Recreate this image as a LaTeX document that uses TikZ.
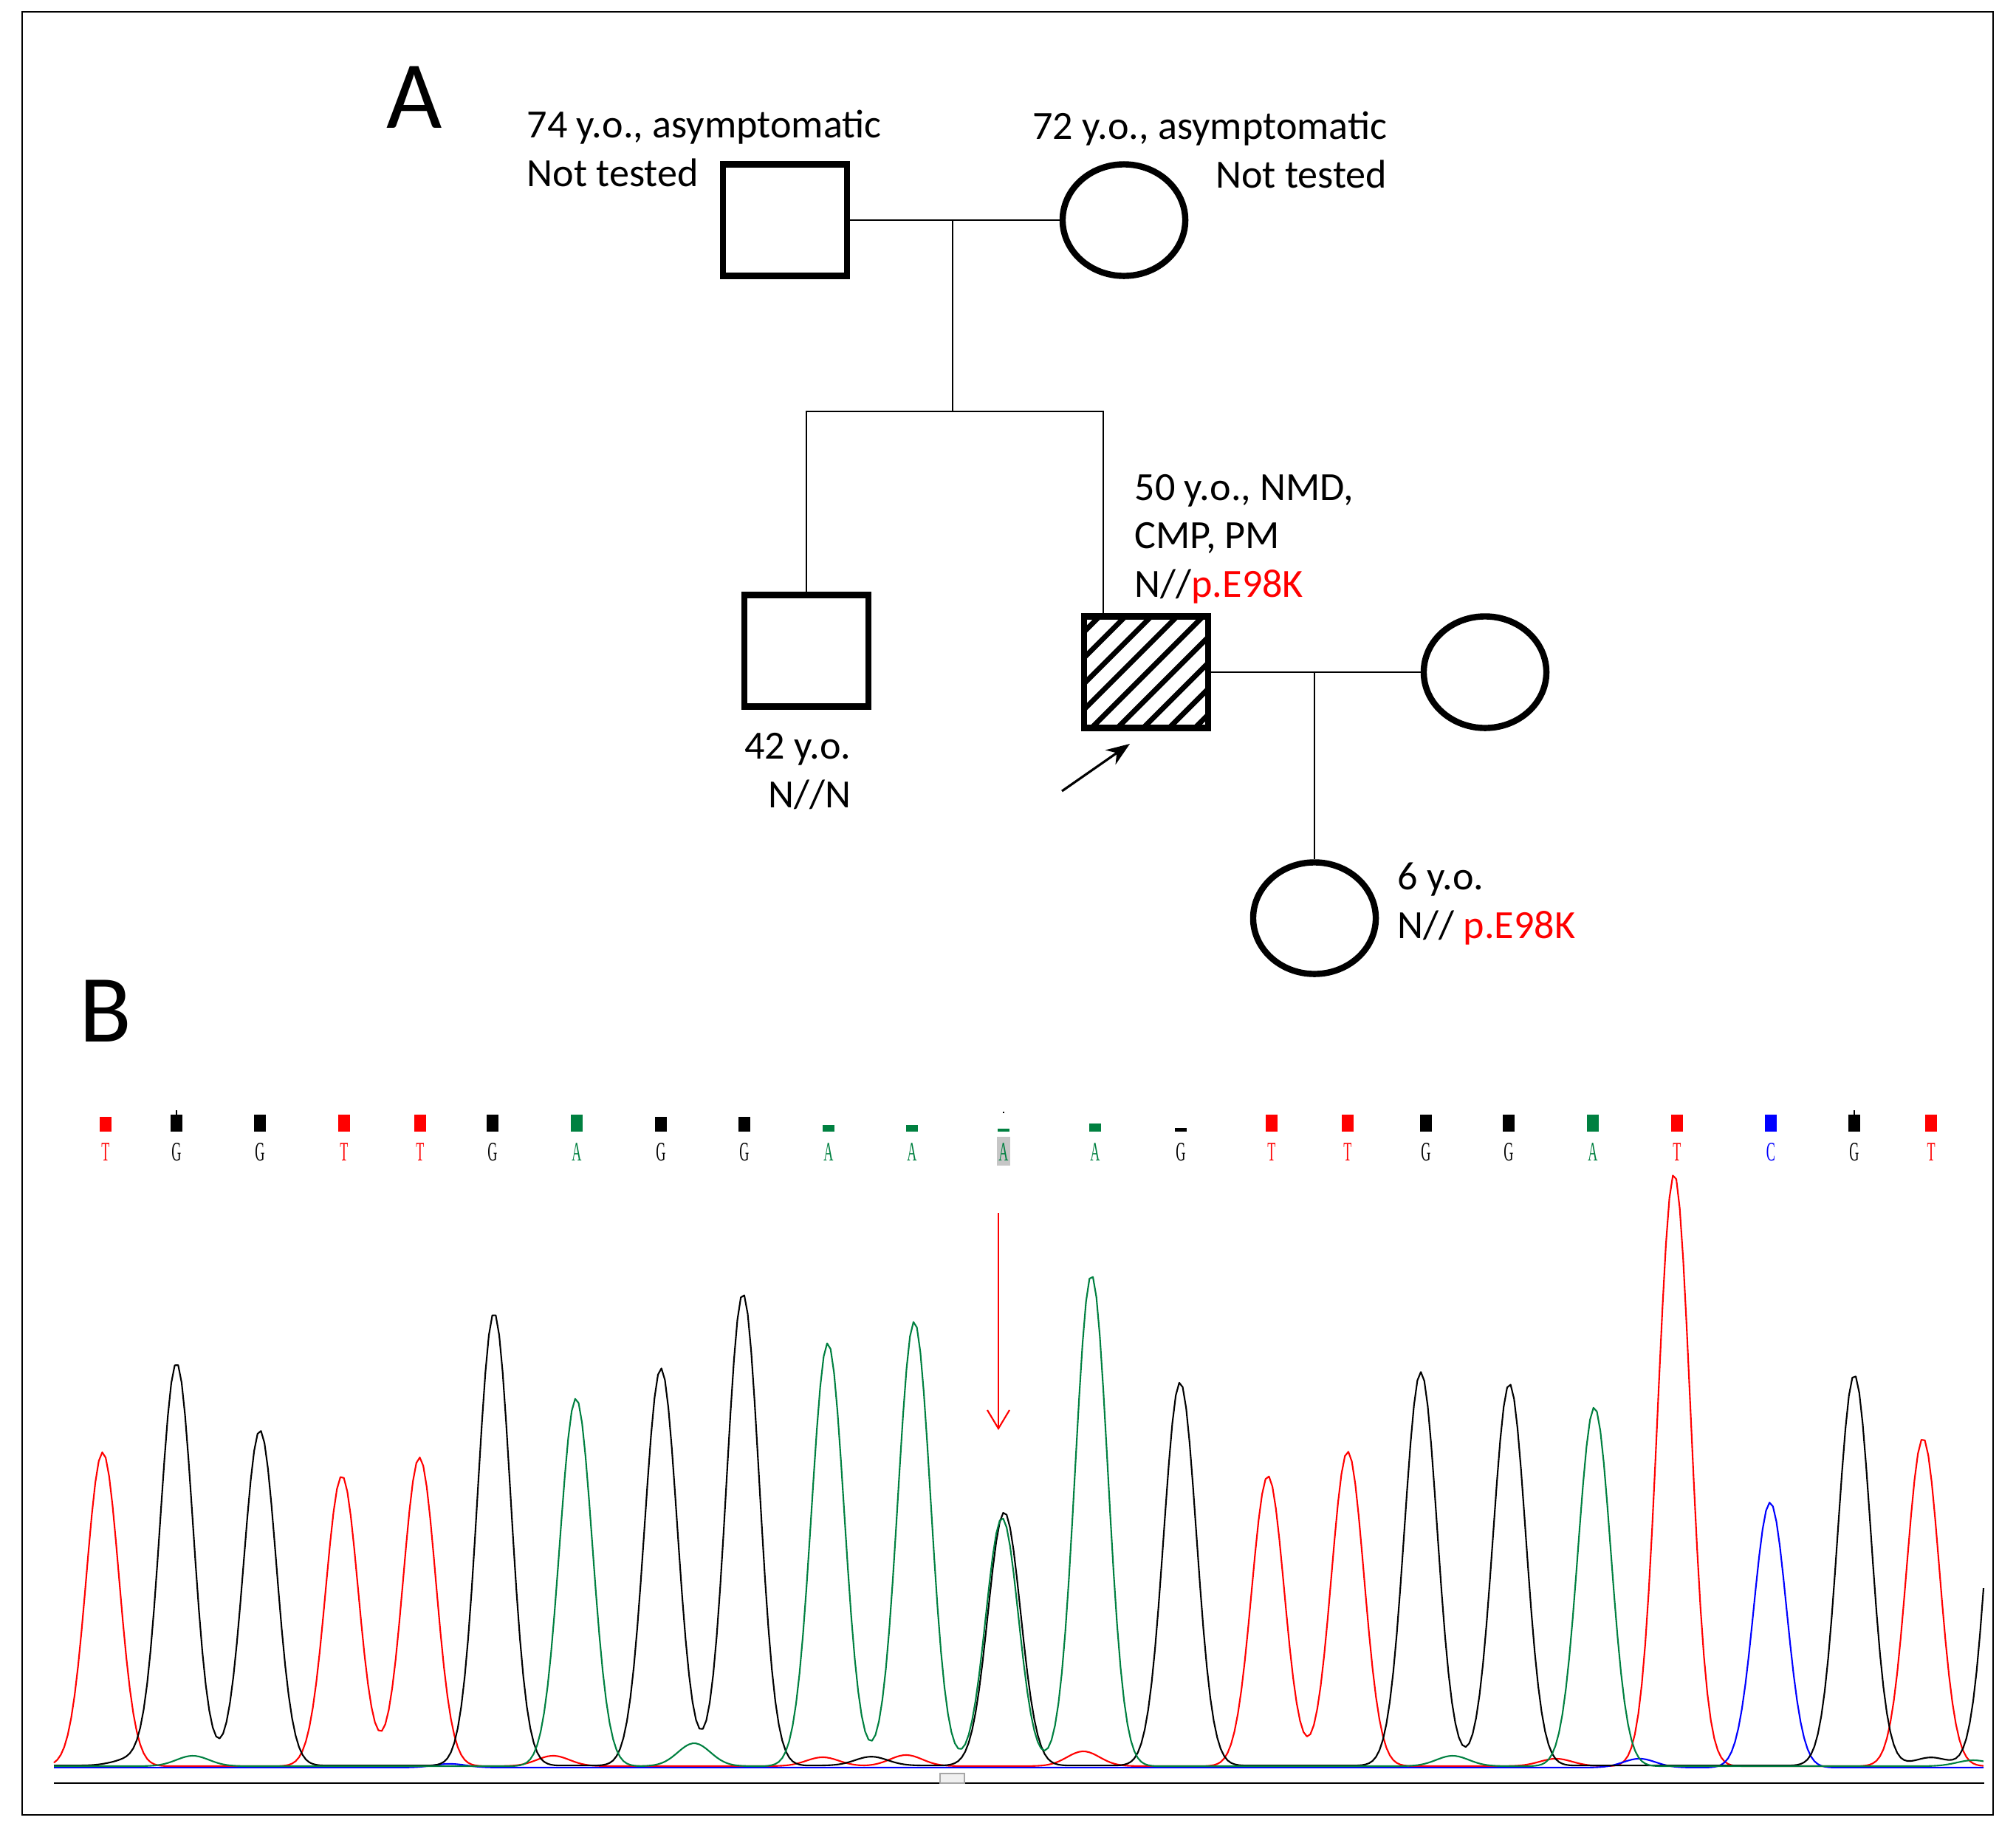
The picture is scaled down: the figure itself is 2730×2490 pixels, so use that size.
\documentclass[tikz,border=0pt]{standalone}
\usepackage{fontspec}
\setmainfont{Carlito}
\newfontfamily\seqfont{Liberation Serif}
\usepackage{graphicx}
\usetikzlibrary{arrows.meta,calc,positioning,shapes.geometric}

\definecolor{mutred}{RGB}{255,0,0}
\definecolor{baseA}{RGB}{0,128,64}
\definecolor{baseC}{RGB}{0,0,255}
\definecolor{baseG}{RGB}{0,0,0}
\definecolor{baseT}{RGB}{255,0,0}

\tikzset{
  male/.style={draw, line width=2.4pt, minimum width=1.68cm, minimum height=1.51cm, inner sep=0pt},
  female/.style={ellipse, draw, line width=2.4pt, minimum width=1.66cm, minimum height=1.51cm, inner sep=0pt},
  link/.style={line width=0.7pt},
  info/.style={inner sep=0pt, font=\fontsize{15.4}{18.5}\selectfont},
  panel/.style={inner sep=0pt, font=\fontsize{37}{40}\selectfont},
  seq/.style={inner sep=0pt, font=\seqfont\fontsize{10.3}{12}\selectfont},
  trace/.style={line width=0.6pt, line join=round},
  declare function={bump(\zz)=exp(-0.5*\zz*\zz);
    pk(\px,\pc,\ph)=\ph*bump(min(abs(\px-\pc)/22,4));}
}

\begin{document}
\begin{tikzpicture}[x=0.01cm, y=-0.01cm]
\useasboundingbox (0,0) rectangle (2730,2490);
\draw[line width=0.5pt] (30,16) rectangle (2699,2457);

% A: pedigree
\node[panel, anchor=base west] (panelA) at (523,173) {A};
\node[male] (father) at (1063,298) {};
\node[female] (mother) at (1522,298) {};
\node[male] (son) at (1092,881) {};
\node[male, path picture={
  \foreach \k in {0,...,9}
    \draw[line width=2pt] ([xshift=-1.30cm+\k*0.35cm]path picture bounding box.south west) -- ++(170,-170);
  }] (proband) at (1552,910) {};
\node[female] (spouse) at (2011,910) {};
\node[female] (daughter) at (1780,1243) {};

\coordinate (m1) at (1290,298);
\coordinate (sibL) at (1092,557);
\coordinate (sibR) at (1494,557);
\coordinate (m2) at (1780,910);
\draw[link] (father) -- (mother);
\draw[link] (m1) -- (m1 |- sibL);
\draw[link] (son.north) -- (sibL) -- (sibR) -- (sibR |- proband.north);
\draw[link] (proband) -- (spouse);
\draw[link] (m2) -- (daughter.north);

\coordinate (ptail) at (1438,1071);
\coordinate (ptip) at (1530,1007);
\draw[line width=0.9pt, -{Stealth[length=0.32cm,width=0.24cm]}] (ptail) -- (ptip);

% base anchor = baseline of the last line
\node[info, anchor=base west, align=left] (fatherlbl) at (713,252) {74 y.o., asymptomatic\\Not tested};
\node[info, anchor=base east, align=right] (motherlbl) at (1879,254) {72 y.o., asymptomatic\\Not tested};
\node[info, anchor=base west, align=left] (probandlbl) at (1536,808) {50 y.o., NMD,\\CMP, PM\\N//\textcolor{mutred}{p.E98K}};
\node[info, anchor=base east, align=right] (sonlbl) at (1153,1093) {42 y.o.\\N//N};
\node[info, anchor=base west, align=left] (daughterlbl) at (1892,1270) {6 y.o.\\N// \textcolor{mutred}{p.E98K}};

% B: chromatogram
\node[panel, anchor=base west] (panelB) at (107,1410) {B};

\fill[gray!45] (1350,1539) rectangle (1368,1578);
\foreach \px/\b/\bh in {143/T/20,239/G/23,352/G/23,466/T/23,569/T/23,667/G/23,781/A/23,895/G/20,1008/G/20,
    1122/A/9,1235/A/9,1359/A/4,1483/A/11,1599/G/5,1722/T/23,1825/T/23,1931/G/23,2043/G/23,2157/A/23,
    2271/T/23,2398/C/23,2511/G/23,2615/T/23}{
  \fill[base\b] (\px-8,1532) rectangle ++(16,-\bh);
  \node[seq, text=base\b] (call\px) at (\px,1560) {\scalebox{0.5}[1]{\b}};
}
\draw[line width=0.5pt] (239,1503) -- (239,1509);
\draw[line width=0.5pt] (2511,1503) -- (2511,1509);
\fill (1358,1505) rectangle ++(2,2);

\draw[trace, baseT] plot[domain=73:2686, samples=560] (\x, {2392-pk(\x,139,425)-pk(\x,463,393)-pk(\x,568,418)
  -pk(\x,1717,393)-pk(\x,1825,426)-pk(\x,2267,802)-pk(\x,2604,444)
  -pk(\x,749,14)-pk(\x,1114,12)-pk(\x,1227,15)-pk(\x,1467,20)-pk(\x,2107,10)});
\draw[trace, baseC] plot[domain=73:2686, samples=560] (\x, {2393-pk(\x,2397,359)-pk(\x,2220,12)-pk(\x,609,5)});
\draw[trace, baseG] plot[domain=73:2686, samples=560] (\x, {2392-pk(\x,239,545)-pk(\x,352,454)-pk(\x,669,613)
  -pk(\x,895,538)-pk(\x,1006,639)-pk(\x,1360,343)-pk(\x,1598,519)-pk(\x,1924,533)
  -pk(\x,2044,517)-pk(\x,2511,529)-pk(\x,2714,540)-pk(\x,174,8)-pk(\x,1180,12)-pk(\x,2615,11)});
\draw[trace, baseA] plot[domain=73:2686, samples=560] (\x, {2392-pk(\x,780,498)-pk(\x,1121,573)-pk(\x,1238,602)
  -pk(\x,1357,336)-pk(\x,1478,665)-pk(\x,2159,486)
  -pk(\x,261,14)-pk(\x,940,31)-pk(\x,1967,14)-pk(\x,2672,8)});

\coordinate (axisL) at (73,2414);
\coordinate (axisR) at (2687,2414);
\draw[line width=0.6pt] (axisL) -- (axisR);
\draw[gray!70, fill=gray!12, line width=0.4pt] (1273,2401) rectangle (1306,2414);

\coordinate (mtail) at (1352,1642);
\coordinate (mtip) at (1352,1936);
\draw[mutred, line width=0.6pt, -{Straight Barb[length=0.25cm,width=0.3cm]}] (mtail) -- (mtip);
\end{tikzpicture}
\end{document}
